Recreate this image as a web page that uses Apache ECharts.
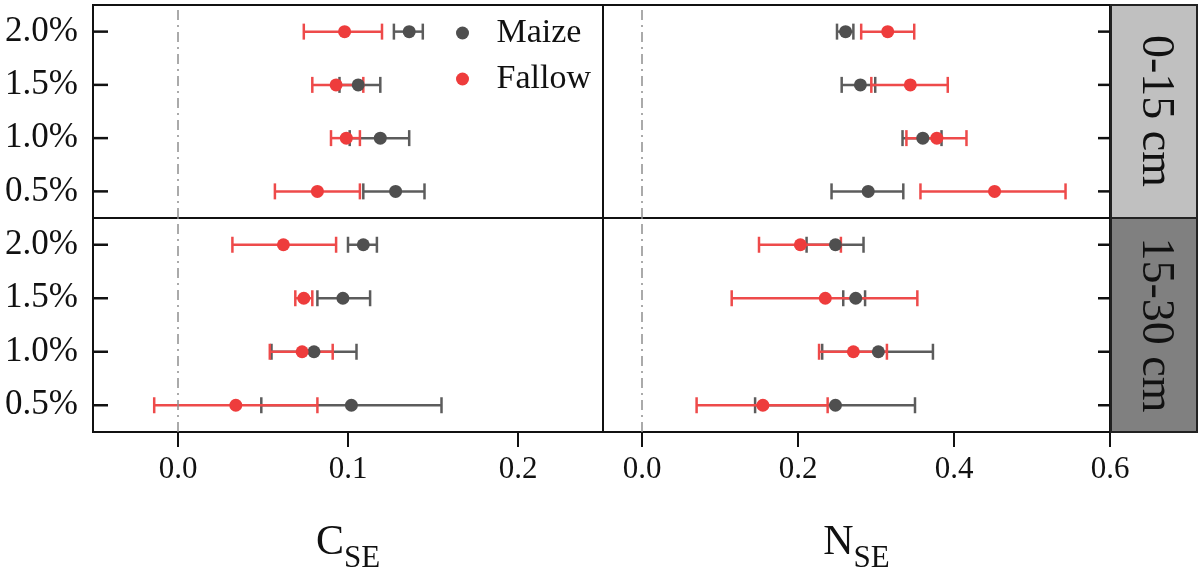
<!DOCTYPE html>
<html style="height: 100%">
<head>
    <meta charset="utf-8">
    <script src="https://cdn.jsdelivr.net/npm/echarts@6/dist/echarts.min.js"></script>
</head>
<body style="height: 100%; margin: 0; background: #fff">
    <div id="container" style="width: 1200px; height: 573px"></div>
    <script type="text/javascript">
        // nutrient levels on y, depth strips on the right
        var levels = ['0.5%', '1.0%', '1.5%', '2.0%'];
        var depths = ['0-15 cm', '15-30 cm'];
        var cTicks = [0, 0.1, 0.2];
        var nTicks = [0, 0.2, 0.4, 0.6];
        var cRange = [-0.05, 0.25];
        var nRange = [-0.05, 0.6];

        // C_SE, 0-15 cm
        var cTopMaize = [0.128, 0.119, 0.106, 0.136];
        var cTopMaizeLo = [0.109, 0.101, 0.095, 0.127];
        var cTopMaizeHi = [0.145, 0.136, 0.119, 0.144];
        var cTopFallow = [0.082, 0.099, 0.093, 0.098];
        var cTopFallowLo = [0.057, 0.090, 0.079, 0.074];
        var cTopFallowHi = [0.107, 0.107, 0.109, 0.120];

        // N_SE, 0-15 cm
        var nTopMaize = [0.290, 0.360, 0.280, 0.261];
        var nTopMaizeLo = [0.243, 0.334, 0.256, 0.250];
        var nTopMaizeHi = [0.335, 0.384, 0.299, 0.271];
        var nTopFallow = [0.452, 0.378, 0.344, 0.315];
        var nTopFallowLo = [0.357, 0.339, 0.294, 0.281];
        var nTopFallowHi = [0.543, 0.416, 0.392, 0.349];

        // C_SE, 15-30 cm
        var cBotMaize = [0.102, 0.080, 0.097, 0.109];
        var cBotMaizeLo = [0.049, 0.055, 0.082, 0.100];
        var cBotMaizeHi = [0.155, 0.105, 0.113, 0.117];
        var cBotFallow = [0.034, 0.073, 0.074, 0.062];
        var cBotFallowLo = [-0.014, 0.054, 0.069, 0.032];
        var cBotFallowHi = [0.082, 0.091, 0.079, 0.093];

        // N_SE, 15-30 cm
        var nBotMaize = [0.248, 0.303, 0.274, 0.248];
        var nBotMaizeLo = [0.145, 0.231, 0.258, 0.211];
        var nBotMaizeHi = [0.350, 0.373, 0.286, 0.284];
        var nBotFallow = [0.155, 0.271, 0.235, 0.203];
        var nBotFallowLo = [0.070, 0.227, 0.115, 0.150];
        var nBotFallowHi = [0.238, 0.314, 0.353, 0.255];

        var serif = "'Liberation Serif', 'DejaVu Serif', serif";
        var maizeColor = '#4f4f4f';
        var fallowColor = '#ee3c3c';
        var maizeBar = '#5c5c5c';
        var fallowBar = '#ee4a4a';

        var panels = [
            { m: cTopMaize, mLo: cTopMaizeLo, mHi: cTopMaizeHi, f: cTopFallow, fLo: cTopFallowLo, fHi: cTopFallowHi },
            { m: nTopMaize, mLo: nTopMaizeLo, mHi: nTopMaizeHi, f: nTopFallow, fLo: nTopFallowLo, fHi: nTopFallowHi },
            { m: cBotMaize, mLo: cBotMaizeLo, mHi: cBotMaizeHi, f: cBotFallow, fLo: cBotFallowLo, fHi: cBotFallowHi },
            { m: nBotMaize, mLo: nBotMaizeLo, mHi: nBotMaizeHi, f: nBotFallow, fLo: nBotFallowLo, fHi: nBotFallowHi }
        ];

        function barData(lo, hi) {
            return lo.map(function (v, i) { return [v, hi[i], levels[i]]; });
        }
        function pointData(mean) {
            return mean.map(function (v, i) { return [v, levels[i]]; });
        }
        // error bar with caps; optionally also the inward level tick on the panel edge
        function errorBar(color, edge, tickLen) {
            return function (params, api) {
                var a = api.coord([api.value(0), api.value(2)]);
                var b = api.coord([api.value(1), api.value(2)]);
                var h = 8;
                var st = { stroke: color, lineWidth: 2.5 };
                var kids = [
                    { type: 'line', shape: { x1: a[0], y1: a[1], x2: b[0], y2: b[1] }, style: st },
                    { type: 'line', shape: { x1: a[0], y1: a[1] - h, x2: a[0], y2: a[1] + h }, style: st },
                    { type: 'line', shape: { x1: b[0], y1: b[1] - h, x2: b[0], y2: b[1] + h }, style: st }
                ];
                if (tickLen) {
                    var e = api.coord([edge, api.value(2)]);
                    kids.push({
                        type: 'line',
                        shape: { x1: e[0], y1: e[1], x2: e[0] + tickLen, y2: e[1] },
                        style: { stroke: '#111', lineWidth: 2.5 }
                    });
                }
                return { type: 'group', children: kids };
            };
        }

        var grids = [
            { left: 93, top: 5, width: 510, height: 213 },
            { left: 603, top: 5, width: 507, height: 213 },
            { left: 93, top: 218, width: 510, height: 214 },
            { left: 603, top: 218, width: 507, height: 214 }
        ].map(function (g) {
            g.show = true;
            g.borderColor = '#111';
            g.borderWidth = 2;
            g.containLabel = false;
            g.outerBoundsMode = 'none';
            return g;
        });

        var xAxes = [0, 1, 2, 3].map(function (i) {
            var isC = i % 2 === 0;
            var bottom = i >= 2;
            var ticks = isC ? cTicks : nTicks;
            var range = isC ? cRange : nRange;
            return {
                type: 'value',
                gridIndex: i,
                min: range[0],
                max: range[1],
                splitLine: { show: false },
                axisLine: { show: false, onZero: false },
                axisTick: { show: bottom, customValues: ticks, length: 15, lineStyle: { color: '#111', width: 2 } },
                axisLabel: {
                    show: bottom, customValues: ticks, margin: 22,
                    fontFamily: serif, fontSize: 31, color: '#111',
                    formatter: function (v) { return v.toFixed(1); }
                },
                name: bottom ? (isC ? '{m|C}{s|SE}' : '{m|N}{s|SE}') : '',
                nameLocation: 'middle',
                nameGap: 90,
                nameTextStyle: {
                    rich: {
                        m: { fontFamily: serif, fontSize: 42, color: '#111' },
                        s: { fontFamily: serif, fontSize: 31, color: '#111', verticalAlign: 'bottom', padding: [0, 0, -10, 0] }
                    }
                }
            };
        });

        var yAxes = [0, 1, 2, 3].map(function (i) {
            var left = i % 2 === 0;
            return {
                type: 'category',
                gridIndex: i,
                data: levels,
                position: left ? 'left' : 'right',
                axisLine: { show: false, onZero: false },
                axisTick: { show: false },
                axisLabel: { show: left, margin: 15, fontFamily: serif, fontSize: 35, color: '#111' },
                splitLine: { show: false }
            };
        });

        var series = [];
        panels.forEach(function (p, i) {
            var left = i % 2 === 0;
            var range = left ? cRange : nRange;
            var edge = left ? range[0] : range[1];
            var tickLen = left ? 15 : -12;
            series.push({
                type: 'custom', xAxisIndex: i, yAxisIndex: i, z: 2, clip: false,
                renderItem: errorBar(maizeBar, edge, tickLen),
                encode: { x: [0, 1], y: 2 },
                data: barData(p.mLo, p.mHi)
            });
            series.push({
                type: 'custom', xAxisIndex: i, yAxisIndex: i, z: 2,
                renderItem: errorBar(fallowBar),
                encode: { x: [0, 1], y: 2 },
                data: barData(p.fLo, p.fHi)
            });
            series.push({
                name: 'Maize', type: 'scatter', xAxisIndex: i, yAxisIndex: i, z: 3,
                symbolSize: 13, itemStyle: { color: maizeColor, opacity: 1 },
                data: pointData(p.m),
                markLine: {
                    silent: true, symbol: ['none', 'none'], label: { show: false },
                    lineStyle: { color: '#8f8f8f', width: 1.5, type: [10, 5, 2, 5] },
                    data: [{ xAxis: 0 }]
                }
            });
            series.push({
                name: 'Fallow', type: 'scatter', xAxisIndex: i, yAxisIndex: i, z: 3,
                symbolSize: 13, itemStyle: { color: fallowColor, opacity: 1 },
                data: pointData(p.f)
            });
        });

        var myChart = echarts.init(document.getElementById('container'));
        var option = {
            animation: false,
            backgroundColor: '#fff',
            legend: {
                data: ['Maize', 'Fallow'],
                orient: 'vertical',
                left: 451,
                top: 11,
                icon: 'circle',
                itemWidth: 58,
                itemHeight: 13,
                itemGap: 12,
                textStyle: { fontFamily: serif, fontSize: 34, color: '#111' }
            },
            grid: grids,
            xAxis: xAxes,
            yAxis: yAxes,
            series: series,
            graphic: [
                { type: 'rect', shape: { x: 1111, y: 5, width: 86, height: 213 }, style: { fill: '#c0c0c0', stroke: '#222', lineWidth: 2 }, z: 10 },
                { type: 'rect', shape: { x: 1111, y: 218, width: 86, height: 214 }, style: { fill: '#808080', stroke: '#222', lineWidth: 2 }, z: 10 },
                { type: 'text', x: 1155, y: 111, rotation: -Math.PI / 2, z: 11,
                  style: { text: depths[0], fontFamily: serif, fontSize: 46, fill: '#111', align: 'center', verticalAlign: 'middle' } },
                { type: 'text', x: 1155, y: 325, rotation: -Math.PI / 2, z: 11,
                  style: { text: depths[1], fontFamily: serif, fontSize: 46, fill: '#111', align: 'center', verticalAlign: 'middle' } }
            ]
        };
        myChart.setOption(option);
    </script>
</body>
</html>
